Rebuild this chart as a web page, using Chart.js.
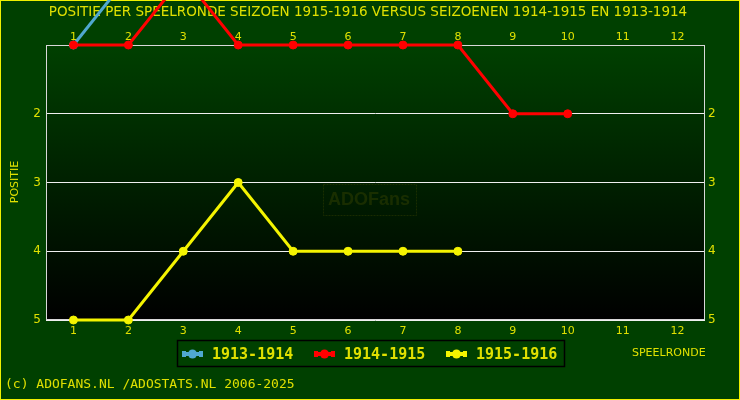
<!DOCTYPE html>
<html>
<head>
<meta charset="utf-8">
<script src="https://cdn.jsdelivr.net/npm/chart.js@4.4.1/dist/chart.umd.min.js"></script>
<style>
  html, body { margin: 0; padding: 0; background: #004000; }
</style>
</head>
<body>
<canvas id="chart" width="740" height="400"></canvas>
<script>
// rounds on the x axis, positions on the y axis (1 = top)
const rounds = ["1", "2", "3", "4", "5", "6", "7", "8", "9", "10", "11", "12"];
const seasons = ["1913-1914", "1914-1915", "1915-1916"];
// 0 = no data for that round (drawn above the plot, like the original)
const pos1913 = [1, 0];
const pos1914 = [1, 1, 0, 1, 1, 1, 1, 1, 2, 2];
const pos1915 = [5, 5, 4, 3, 4, 4, 4, 4];
const seasonColors = ["#50a8d0", "#ff0000", "#f4f400"];

const TXT = "#e0e000";
const BG = "#004000";
const tickFont = { family: "DejaVu Sans", size: 11 };

const decor = {
  id: "decor",
  beforeDraw(chart) {
    const { ctx, chartArea: a } = chart;
    ctx.save();
    ctx.fillStyle = BG;
    ctx.fillRect(0, 0, 740, 400);
    ctx.strokeStyle = "#f0f000";
    ctx.lineWidth = 1;
    ctx.strokeRect(0.5, 0.5, 739, 399);
    // plot background gradient
    const g = ctx.createLinearGradient(0, a.top, 0, a.bottom);
    g.addColorStop(0, "#004000");
    g.addColorStop(1, "#000000");
    ctx.fillStyle = g;
    ctx.fillRect(a.left, a.top, a.right - a.left, a.bottom - a.top);
    ctx.restore();
  },
  beforeDatasetsDraw(chart) {
    const { ctx, chartArea: a } = chart;
    ctx.save();
    // watermark
    ctx.strokeStyle = "rgba(100,100,0,0.25)";
    ctx.setLineDash([2, 1]);
    ctx.strokeRect(323.5, 184.5, 93, 31);
    ctx.setLineDash([]);
    ctx.fillStyle = "rgba(100,100,0,0.25)";
    ctx.font = "bold 18px 'Liberation Sans'";
    ctx.textAlign = "center";
    ctx.textBaseline = "middle";
    ctx.fillText("ADOFans", 369, 200);
    // plot border
    ctx.strokeStyle = "#d8d8d8";
    ctx.lineWidth = 1;
    ctx.strokeRect(Math.round(a.left) + 0.5, Math.round(a.top) + 0.5,
      Math.round(a.right - a.left) - 1, Math.round(a.bottom - a.top) - 1);
    // title
    ctx.fillStyle = TXT;
    ctx.font = "13.5px 'DejaVu Sans'";
    ctx.textAlign = "center";
    ctx.fillText("POSITIE PER SPEELRONDE SEIZOEN 1915-1916 VERSUS SEIZOENEN 1914-1915 EN 1913-1914", 368, 12);
    ctx.restore();
  },
  afterDraw(chart) {
    const { ctx } = chart;
    ctx.save();
    ctx.fillStyle = TXT;
    ctx.textBaseline = "middle";
    // axis titles
    ctx.font = "11px 'DejaVu Sans'";
    ctx.textAlign = "left";
    ctx.fillText("SPEELRONDE", 632, 353);
    ctx.save();
    ctx.translate(15, 182);
    ctx.rotate(-Math.PI / 2);
    ctx.textAlign = "center";
    ctx.fillText("POSITIE", 0, 0);
    ctx.restore();
    // copyright
    ctx.font = "13px 'DejaVu Sans Mono'";
    ctx.textAlign = "left";
    ctx.fillText("(c) ADOFANS.NL /ADOSTATS.NL 2006-2025", 5, 385);
    // legend
    ctx.fillStyle = BG;
    ctx.fillRect(177, 340, 388, 27);
    ctx.strokeStyle = "#000000";
    ctx.lineWidth = 1.5;
    ctx.strokeRect(177.5, 340.5, 387, 26);
    seasons.forEach((s, i) => {
      const x = 182 + i * 132;
      ctx.fillStyle = seasonColors[i];
      ctx.fillRect(x, 352, 21, 4);
      ctx.fillRect(x, 351, 4, 6);
      ctx.fillRect(x + 17, 351, 4, 6);
      ctx.beginPath();
      ctx.arc(x + 10.5, 354, 4.5, 0, Math.PI * 2);
      ctx.fill();
      ctx.fillStyle = TXT;
      ctx.font = "bold 15px 'DejaVu Sans Mono'";
      ctx.fillText(s, x + 30, 355);
    });
    ctx.restore();
  }
};

function xAxis(pos, h, pad) {
  return {
    type: "category",
    position: pos,
    offset: true,
    grid: { display: false, drawTicks: false },
    border: { display: false },
    ticks: { color: TXT, font: tickFont, padding: pad, autoSkip: false, maxRotation: 0 },
    afterFit(s) { s.height = h; }
  };
}

function yAxis(pos, w, pad, showGrid) {
  return {
    type: "linear",
    position: pos,
    reverse: true,
    min: 1,
    max: 5,
    grid: { display: showGrid, color: "#f0f0f0", lineWidth: 1, drawTicks: false },
    border: { display: false },
    ticks: {
      stepSize: 1,
      color: TXT,
      font: { family: "DejaVu Sans", size: 12 },
      padding: pad,
      callback: v => (v === 1 ? "" : v)
    },
    afterFit(s) { s.width = w; }
  };
}

const seriesData = [pos1913, pos1914, pos1915];

new Chart(document.getElementById("chart"), {
  type: "line",
  data: {
    labels: rounds,
    datasets: seriesData.map((d, i) => ({
      label: seasons[i],
      data: d,
      xAxisID: "x",
      yAxisID: "y",
      borderColor: seasonColors[i],
      backgroundColor: seasonColors[i],
      pointBackgroundColor: seasonColors[i],
      pointBorderColor: seasonColors[i],
      pointBorderWidth: 1,
      pointRadius: 4,
      borderWidth: 3,
      tension: 0,
      fill: false,
      clip: false,
      order: 3 - i
    }))
  },
  options: {
    responsive: false,
    animation: false,
    layout: { padding: 0 },
    plugins: {
      legend: { display: false },
      title: { display: false },
      tooltip: { enabled: false }
    },
    scales: {
      x: xAxis("bottom", 80, 5),
      x2: xAxis("top", 45, 1),
      y: yAxis("left", 46, 5, true),
      y2: yAxis("right", 35, 3, false)
    }
  },
  plugins: [decor]
});
</script>
</body>
</html>
